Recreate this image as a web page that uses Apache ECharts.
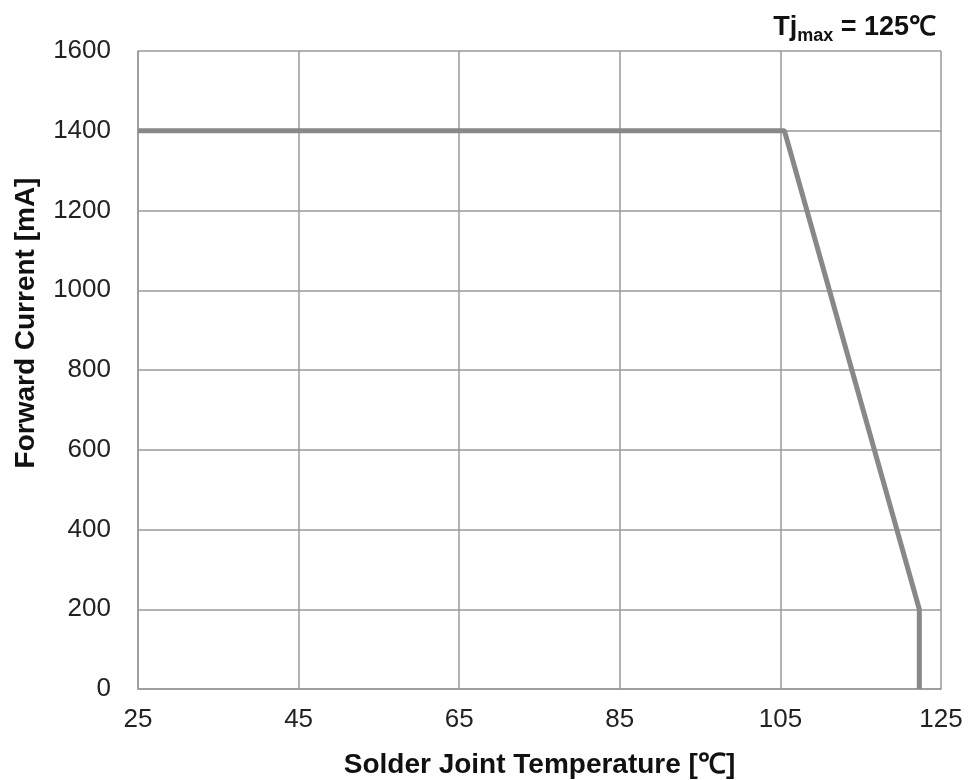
<!DOCTYPE html>
<html>
<head>
<meta charset="utf-8">
<script src="https://cdn.jsdelivr.net/npm/echarts@6/dist/echarts.min.js"></script>
<style>html,body{margin:0;padding:0;background:#fff}#c{width:971px;height:780px}</style>
</head>
<body>
<div id="c"></div>
<script>
const temperature = [25, 105.5, 122.3, 122.3];
const forwardCurrent = [1400, 1400, 200, 0];
const xTicks = [25, 45, 65, 85, 105, 125];
const yTicks = [0, 200, 400, 600, 800, 1000, 1200, 1400, 1600];

const chart = echarts.init(document.getElementById('c'));
const font = 'Liberation Sans, Arial, sans-serif';
chart.setOption({
  animation: false,
  backgroundColor: '#fff',
  grid: {left: 138, right: 30, top: 51, bottom: 91, outerBoundsMode: 'none', containLabel: false},
  title: {
    text: '{a|Tj}{b|max}{a| = 125℃}',
    right: 30, top: 6,
    textStyle: {
      rich: {
        a: {fontFamily: font, fontSize: 27, fontWeight: 'bold', color: '#111', lineHeight: 34},
        b: {fontFamily: font, fontSize: 18, fontWeight: 'bold', color: '#111', verticalAlign: 'bottom', padding: [16, 0, 0, 0], lineHeight: 34}
      }
    }
  },
  xAxis: {
    type: 'value', min: 25, max: 125, interval: 20,
    name: 'Solder Joint Temperature [℃]', nameLocation: 'middle', nameGap: 62,
    nameTextStyle: {fontFamily: font, fontSize: 28, fontWeight: 'bold', color: '#111'},
    axisLine: {show: true, lineStyle: {color: '#999', width: 1.5}},
    axisTick: {show: false},
    axisLabel: {fontFamily: font, fontSize: 26, color: '#222', margin: 18},
    splitLine: {show: true, lineStyle: {color: '#999', width: 1.5}}
  },
  yAxis: {
    type: 'value', min: 0, max: 1600, interval: 200,
    axisLine: {show: true, lineStyle: {color: '#999', width: 1.5}},
    axisTick: {show: false},
    axisLabel: {fontFamily: font, fontSize: 26, color: '#222', margin: 27, formatter: v => String(v)},
    splitLine: {show: true, lineStyle: {color: '#999', width: 1.5}}
  },
  graphic: [{
    type: 'text',
    x: 26, y: 323,
    rotation: Math.PI / 2,
    style: {
      text: 'Forward Current [mA]',
      fontFamily: font, fontSize: 28, fontWeight: 'bold', fill: '#111',
      align: 'center', verticalAlign: 'middle'
    }
  }],
  series: [{
    type: 'line',
    data: temperature.map((t, i) => [t, forwardCurrent[i]]),
    symbol: 'none',
    lineStyle: {color: '#888', width: 5},
    clip: false
  }]
});
</script>
</body>
</html>
